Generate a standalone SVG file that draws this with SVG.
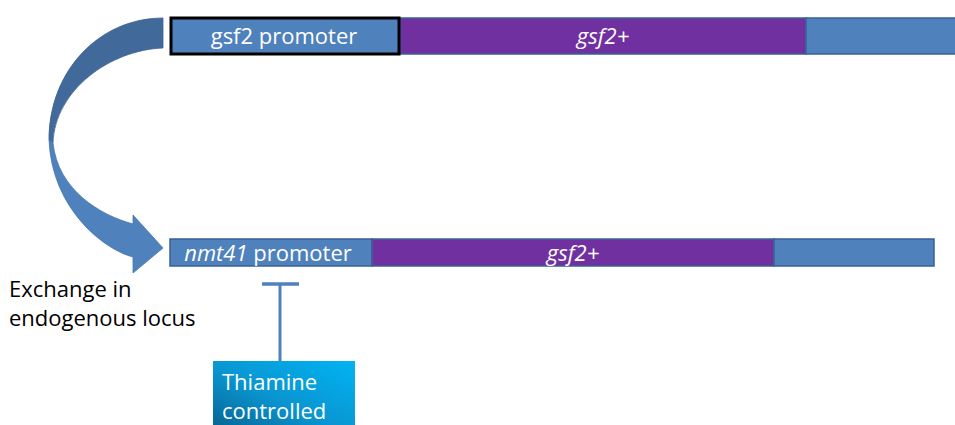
<svg xmlns="http://www.w3.org/2000/svg" width="955" height="425" viewBox="0 0 955 425">
  <defs>
    <style>
      .seg-blue { fill: #4f81bd; stroke: #3a6191; stroke-width: 1.5; }
      .seg-purple { fill: #7030a0; stroke: #3a6191; stroke-width: 1.5; }
      .lbl { font-family: "Open Sans", "Liberation Sans", sans-serif; font-size: 22px; fill: #ffffff; }
      .note { font-family: "Open Sans", "Liberation Sans", sans-serif; font-size: 22px; fill: #000000; }
      .ital { font-style: italic; }
    </style>
    <linearGradient id="thiamineFill" x1="0" y1="1" x2="1" y2="0">
      <stop offset="0" stop-color="#06628f"/>
      <stop offset="0.45" stop-color="#0a95d0"/>
      <stop offset="1" stop-color="#00b4f2"/>
    </linearGradient>
  </defs>

  <!-- endogenous gsf2 locus -->
  <g id="locus-top">
    <rect class="seg-blue" x="171" y="18" width="229" height="36"/>
    <rect class="seg-purple" x="400" y="18" width="406" height="36"/>
    <rect class="seg-blue" x="806" y="18" width="160" height="36"/>
    <rect x="171" y="18" width="228" height="36" fill="none" stroke="#000000" stroke-width="3"/>
    <text class="lbl" x="284" y="44" text-anchor="middle">gsf2 promoter</text>
    <text class="lbl ital" x="603" y="44" text-anchor="middle">gsf2+</text>
  </g>

  <!-- nmt41-driven locus -->
  <g id="locus-bottom">
    <rect class="seg-blue" x="170" y="239" width="202" height="27"/>
    <rect class="seg-purple" x="372" y="239" width="402" height="27"/>
    <rect class="seg-blue" x="774" y="239" width="160" height="27"/>
    <text class="lbl" x="268" y="261" text-anchor="middle"><tspan class="ital">nmt41</tspan> promoter</text>
    <text class="lbl ital" x="573" y="261" text-anchor="middle">gsf2+</text>
  </g>

  <!-- thiamine control box -->
  <g id="thiamine">
    <rect x="213" y="361" width="142" height="70" fill="url(#thiamineFill)"/>
    <text class="lbl" x="222" y="390" font-size="23.5">Thiamine</text>
    <text class="lbl" x="222" y="419" font-size="23.5">controlled</text>
  </g>

  <!-- exchange label -->
  <g id="exchange-label">
    <text class="note" x="9" y="297">Exchange in</text>
    <text class="note" x="9" y="326">endogenous locus</text>
  </g>

  <g id="connectors">
    <!-- curved exchange arrow: back face (upper) -->
    <path d="M163,18 C100,18 49,70 49,140 L53,143 C55,90 110,50 163,48 Z" fill="#41699a" stroke="#3d6491" stroke-width="0.8"/>
    <!-- curved exchange arrow: front face (lower) with head -->
    <path d="M49,140 C52,210 105,250 133,257 L133,273 L163,248 L133,215 L133,224 C100,215 58,190 53,143 Z" fill="#4f81bd" stroke="#4677b0" stroke-width="0.8"/>
    <!-- repression bar -->
    <line x1="280" y1="284" x2="280" y2="361" stroke="#4f81bd" stroke-width="3"/>
    <line x1="262" y1="284" x2="299" y2="284" stroke="#4f81bd" stroke-width="3.5"/>
  </g>
</svg>
